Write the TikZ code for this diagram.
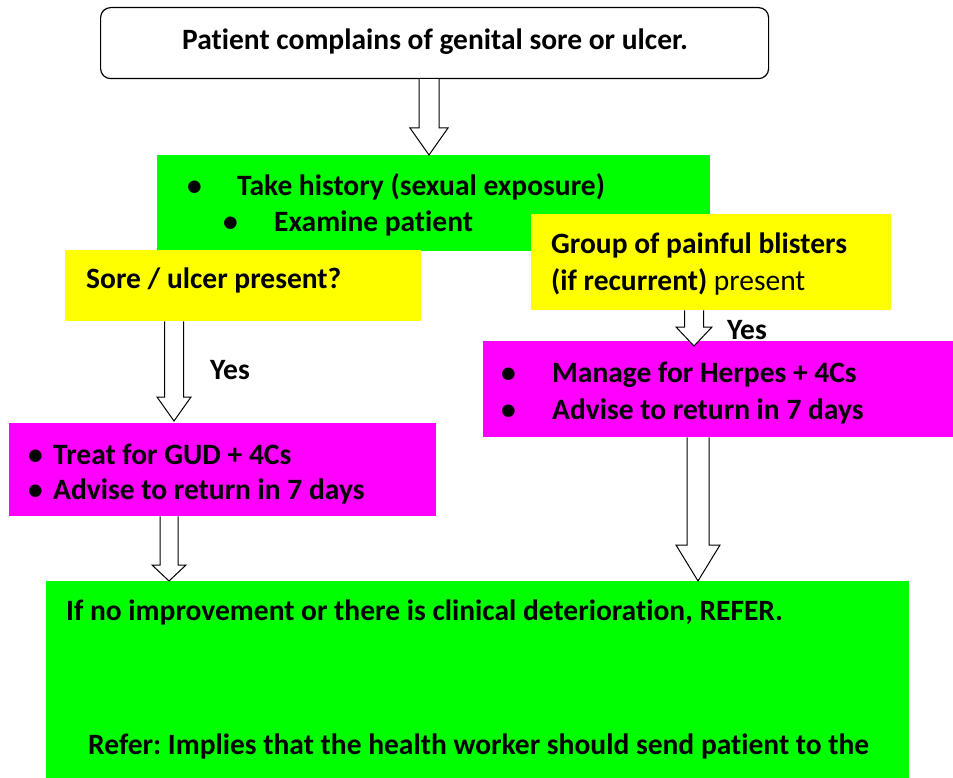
\documentclass[tikz,border=0pt]{standalone}
\usepackage{fontspec}
\setmainfont{Carlito}[Ligatures=NoCommon]
\usetikzlibrary{calc}
\definecolor{bgreen}{HTML}{00FF00}
\definecolor{byellow}{HTML}{FFFF00}
\definecolor{bmagenta}{HTML}{FF00FF}
\tikzset{
  panel/.style={draw=none,inner sep=0pt,anchor=north west,rectangle},
  txt/.style={inner sep=0pt,anchor=base west,font=\fontsize{29.5}{34}\selectfont\bfseries},
  hollow/.style={draw=black,fill=white,line width=1pt,line join=miter},
}
% #1 start, #2 tip, #3 half shaft, #4 half head, #5 head length
\newcommand{\blockarrow}[5]{%
  \path #1 coordinate (bs) #2 coordinate (bt);
  \draw[hollow] ($(bs)+(-#3,0)$) -- ($(bt)+(-#3,-#5)$) -- ($(bt)+(-#4,-#5)$) -- (bt)
    -- ($(bt)+(#4,-#5)$) -- ($(bt)+(#3,-#5)$) -- ($(bs)+(#3,0)$);
}
\newcommand{\bul}[1]{\makebox[#1][l]{•}}
\begin{document}
\frenchspacing
\begin{tikzpicture}[x=1pt,y=-1pt]
\useasboundingbox (0,0) rectangle (953,778);
% boxes
\node[panel,draw=black,line width=1.2pt,rounded corners=10pt,fill=white,minimum width=668pt,minimum height=71pt] (top) at (100,7) {};
\node[panel,fill=bgreen,minimum width=553pt,minimum height=96pt] (g1) at (157,155) {};
\node[panel,fill=byellow,minimum width=356pt,minimum height=71pt] (yl) at (65,250) {};
\node[panel,fill=byellow,minimum width=360pt,minimum height=96pt] (yr) at (531,214) {};
\node[panel,fill=bmagenta,minimum width=427pt,minimum height=93pt] (ml) at (9,423) {};
\node[panel,fill=bmagenta,minimum width=470pt,minimum height=96pt] (mr) at (483,341) {};
\node[panel,fill=bgreen,minimum width=863pt,minimum height=200pt] (gb) at (46,581) {};
% x positions of arrows
\coordinate (xa) at (429,0);
\coordinate (xb) at (174,0);
\coordinate (xc) at (169,0);
\coordinate (xd) at (694,0);
\coordinate (xe) at (698,0);
% arrows
\blockarrow{(top.south -| xa)}{(g1.north -| xa)}{10}{19}{27}
\blockarrow{(yl.south -| xb)}{($(ml.north -| xb)+(0,-2)$)}{9.5}{17}{24}
\blockarrow{(ml.south -| xc)}{(gb.north -| xc)}{9}{17}{16}
\blockarrow{(yr.south -| xd)}{($(mr.north -| xd)+(0,5)$)}{9.5}{18}{19}
\blockarrow{(mr.south -| xe)}{(gb.north -| xe)}{11}{22}{36}
% texts
\node[txt] (t0) at (182,50) {Patient complains of genital sore or ulcer.};
\node[txt] (t1) at (187,196) {\bul{50pt}Take history (sexual exposure)};
\node[txt] (t2) at (223,232) {\bul{51pt}Examine patient};
\node[txt] (t3) at (86,288) {Sore / ulcer present?};
\node[txt] (t4) at (551,253) {Group of painful blisters};
\node[txt] (t5) at (551,290) {(if recurrent) \mdseries present};
\node[txt] (y1) at (210,379) {Yes};
\node[txt] (y2) at (727,339) {Yes};
\node[txt] (t6) at (28,464) {\bul{25pt}Treat for GUD + 4Cs};
\node[txt] (t7) at (28,499) {\bul{25pt}Advise to return in 7 days};
\node[txt] (t8) at (501,382) {\bul{51pt}Manage for Herpes + 4Cs};
\node[txt] (t9) at (501,419) {\bul{51pt}Advise to return in 7 days};
\node[txt] (t10) at (66,620) {If no improvement or there is clinical deterioration, REFER.};
\node[txt] (t11) at (88,754) {Refer: Implies that the health worker should send patient to the};
\end{tikzpicture}
\end{document}
